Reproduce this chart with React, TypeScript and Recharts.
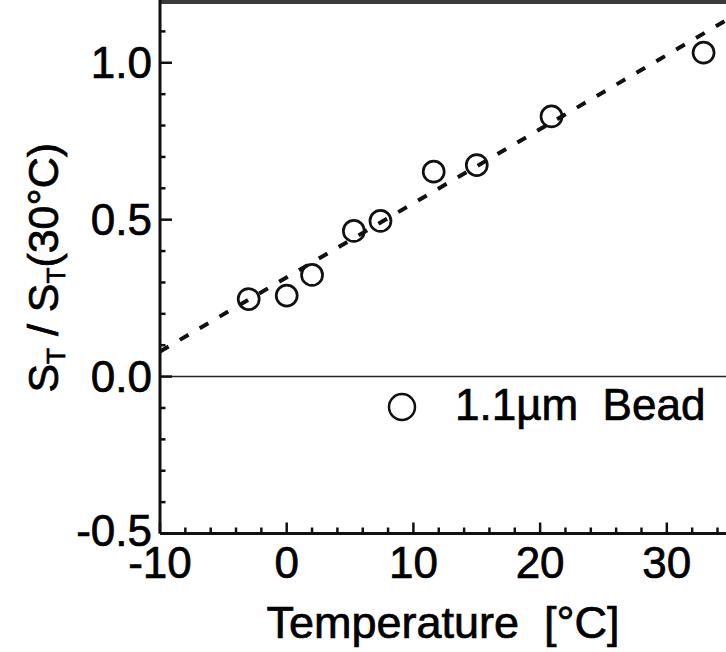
import React from 'react';
import { ScatterChart, Scatter, XAxis, YAxis, ReferenceLine, Label } from 'recharts';

// measured points (temperature in °C, S_T normalised to 30°C)
const temperature = [-3, 0, 2, 5.3, 7.4, 11.6, 15, 20.9, 32.9];
const ratio = [0.247, 0.258, 0.324, 0.464, 0.496, 0.653, 0.674, 0.829, 1.032];

// dashed linear fit
const fitTemperature = [-10, 34.67];
const fitRatio = [0.08, 1.135];

const xTicks = [-10, -8, -6, -4, -2, 0, 2, 4, 6, 8, 10, 12, 14, 16, 18, 20, 22, 24, 26, 28, 30, 32, 34];
const yTicks = [-0.5, -0.4, -0.3, -0.2, -0.1, 0, 0.1, 0.2, 0.3, 0.4, 0.5, 0.6, 0.7, 0.8, 0.9, 1.0, 1.1];
const legendLabel = '1.1µm  Bead';

const font = '"Liberation Sans", Arial, sans-serif';
// the scanned figure's text is a little heavier than plain Arial
const ink = { fill: '#000', stroke: '#000', strokeWidth: 0.7 };

const points = temperature.map((t, i) => ({ x: t, y: ratio[i] }));
const fit = fitTemperature.map((t, i) => ({ x: t, y: fitRatio[i] }));

const XTick = (props: any) => {
  const { x, y, payload } = props;
  const major = payload.value % 10 === 0;
  return (
    <g>
      <line x1={x} y1={y} x2={x} y2={y - (major ? 11 : 6)} stroke="#111" strokeWidth={2.5} />
      {major && (
        <text x={x} y={y + 44} textAnchor="middle" fontSize={44} fontFamily={font} {...ink}>
          {payload.value}
        </text>
      )}
    </g>
  );
};

const YTick = (props: any) => {
  const { x, y, payload } = props;
  const v = payload.value;
  const major = Math.abs(v * 2 - Math.round(v * 2)) < 1e-6;
  return (
    <g>
      <line x1={x} y1={y} x2={x + (major ? 12 : 5.5)} y2={y} stroke="#111" strokeWidth={2.5} />
      {major && (
        <text x={x - 8} y={y + (v < 0 ? 12 : 15)} textAnchor="end" fontSize={44} fontFamily={font} {...ink}>
          {v.toFixed(1)}
        </text>
      )}
    </g>
  );
};

const Ring = (props: any) => (
  <circle cx={props.cx} cy={props.cy} r={10.5} fill="none" stroke="#111" strokeWidth={2.7} />
);

const XTitle = (props: any) => {
  const { x, y, width } = props.viewBox;
  return (
    <text x={x + width / 2} y={y + 104.5} textAnchor="middle" fontSize={45} fontFamily={font}
      {...ink} style={{ whiteSpace: 'pre' }}>
      {'Temperature  [°C]'}
    </text>
  );
};

const YTitle = (props: any) => {
  const { y, height } = props.viewBox;
  const cx = 58;
  const cy = y + height / 2 + 1;
  return (
    <text x={cx} y={cy} transform={`rotate(-90 ${cx} ${cy})`} textAnchor="middle" fontSize={43}
      fontFamily={font} {...ink}>
      S<tspan fontSize={26} dy={7}>T</tspan>
      <tspan dy={-7}> / S</tspan>
      <tspan fontSize={26} dy={7}>T</tspan>
      <tspan dy={-7}>(30°C)</tspan>
    </text>
  );
};

export default function App() {
  return (
    <div style={{ position: 'absolute', left: 0, top: 0, width: 726, height: 652, background: '#fff' }}>
      <ScatterChart width={726} height={652} margin={{ top: 0, right: 0, bottom: 0, left: 0 }}>
        <XAxis type="number" dataKey="x" domain={[-10, 34.67]} ticks={xTicks} allowDataOverflow
          height={118.5} tickSize={0} tickMargin={0} tickLine={false} tick={XTick}
          axisLine={{ stroke: '#111', strokeWidth: 3 }} interval={0}>
          <Label content={XTitle} />
        </XAxis>
        <YAxis type="number" dataKey="y" domain={[-0.5, 1.2]} ticks={yTicks} allowDataOverflow
          width={160} tickSize={0} tickMargin={0} tickLine={false} tick={YTick}
          axisLine={{ stroke: '#111', strokeWidth: 3 }} interval={0}>
          <Label content={YTitle} />
        </YAxis>
        <ReferenceLine y={1.2} stroke="#3a3a3a" strokeWidth={8} />
        <ReferenceLine y={0} stroke="#222" strokeWidth={1.5} />
        <Scatter data={fit} isAnimationActive={false} lineType="joint"
          line={{ stroke: '#111', strokeWidth: 4, strokeDasharray: '10 13' }} shape={() => <g />} />
        <Scatter data={points} isAnimationActive={false} shape={Ring} />
      </ScatterChart>
      <svg width={726} height={652} style={{ position: 'absolute', left: 0, top: 0, pointerEvents: 'none' }}>
        <circle cx={402} cy={407} r={13} fill="none" stroke="#111" strokeWidth={2.5} />
        <text x={455} y={420} fontSize={44} fontFamily={font} {...ink} style={{ whiteSpace: 'pre' }}>
          {legendLabel}
        </text>
      </svg>
    </div>
  );
}
